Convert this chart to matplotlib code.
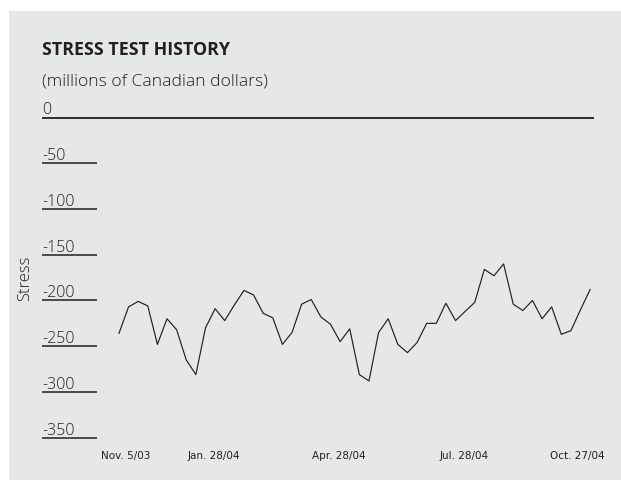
import matplotlib
matplotlib.use("Agg")
import matplotlib.pyplot as plt
from matplotlib.patches import Rectangle

# weekly stress test results (millions of CAD)
stress = [-236, -207, -201, -206, -248, -220, -232, -265, -281, -230,
          -209, -222, -205, -189, -194, -214, -219, -248, -235, -204,
          -199, -218, -226, -245, -231, -281, -288, -235, -220, -248,
          -257, -246, -225, -225, -203, -222, -212, -202, -166, -173,
          -160, -204, -211, -200, -220, -207, -237, -233, -210, -188]
y_ticks = [0, -50, -100, -150, -200, -250, -300, -350]
date_labels = ["Nov. 5/03", "Jan. 28/04", "Apr. 28/04", "Jul. 28/04", "Oct. 27/04"]
date_pos = [0.75, 9.9, 22.9, 35.9, 47.7]

W, H = 621, 481
fig = plt.figure(figsize=(W / 100, H / 100), dpi=100)
fig.patches.append(Rectangle((9 / W, 0), 1, 1 - 12 / H, transform=fig.transFigure,
                             facecolor="#e6e7e9", edgecolor="none", zorder=-5))

font = ["Open Sans", "DejaVu Sans"]
narrow = ["Liberation Sans Narrow", "DejaVu Sans"]
ink = "#231f20"

fig.text(42 / W, 1 - 55 / H, "STRESS TEST HISTORY", family=font, fontsize=12.8,
         weight="bold", color=ink, va="baseline")
fig.text(42 / W, 1 - 86 / H, "(millions of Canadian dollars)", family=font,
         fontsize=12.6, weight="light", color=ink, va="baseline")
fig.text(25 / W, 1 - 278 / H, "Stress", family=font, fontsize=12, weight="light",
         color=ink, rotation=90, ha="center", va="center")

top, bot = 118.5, 438.7
ax = fig.add_axes([42 / W, 1 - bot / H, (594 - 42) / W, (bot - top) / H])
ax.set_ylim(-350, 0)
ax.set_xlim(-8.0, 49.4)
ax.axis("off")

trans = ax.get_yaxis_transform()
short = (97.4 - 42) / (594 - 42)
for v in y_ticks:
    x1 = 1 if v == 0 else short
    ax.hlines(v, 0, x1, transform=trans, color=ink, lw=1.3 if v == 0 else 1.1,
              clip_on=False)
    ax.annotate(str(v), xy=(0, v), xycoords=trans, xytext=(0, 3),
                textcoords="offset points", va="baseline", ha="left",
                family=font, fontsize=11.5, weight="light", color=ink,
                annotation_clip=False)

ax.plot(range(len(stress)), stress, color=ink, lw=0.85, clip_on=False)

for p, lab in zip(date_pos, date_labels):
    ax.annotate(lab, xy=(p, -350), xytext=(0, -12.5), textcoords="offset points",
                ha="center", va="center", family=narrow, fontsize=7.5, color=ink,
                annotation_clip=False)

fig.savefig("out.png", dpi=100)
